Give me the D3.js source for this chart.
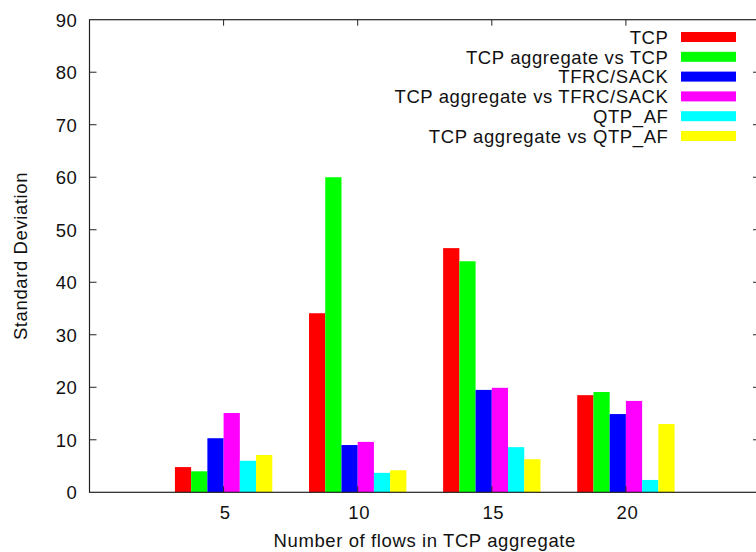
<!DOCTYPE html>
<html>
<head>
<meta charset="utf-8">
<script src="https://cdn.jsdelivr.net/npm/d3@7"></script>
<style>
  html, body { margin: 0; padding: 0; background: #fff; }
  svg { display: block; font-family: "Liberation Sans", Arial, sans-serif; }
  svg text { font-size: 18.5px; letter-spacing: 0.6px; fill: #111; }
</style>
</head>
<body>
<svg id="chart" width="756" height="552"></svg>
<script>
const categories = ["5", "10", "15", "20"];
const seriesNames = ["TCP", "TCP aggregate vs TCP", "TFRC/SACK", "TCP aggregate vs TFRC/SACK", "QTP_AF", "TCP aggregate vs QTP_AF"];
const seriesColors = ["#ff0000", "#00ff00", "#0000ff", "#ff00ff", "#00ffff", "#ffff00"];
const tcp        = [4.8, 34.1, 46.5, 18.5];
const aggVsTcp   = [4.0, 60.0, 44.0, 19.1];
const tfrc       = [10.3, 9.0, 19.5, 14.9];
const aggVsTfrc  = [15.1, 9.6, 19.9, 17.4];
const qtp        = [6.0, 3.7, 8.6, 2.35];
const aggVsQtp   = [7.1, 4.2, 6.3, 13.0];
const seriesValues = [tcp, aggVsTcp, tfrc, aggVsTfrc, qtp, aggVsQtp];
const yTicks = [0, 10, 20, 30, 40, 50, 60, 70, 80, 90];

(function () {
const svg = d3.select("#chart");
const pl = 89.5, pr = 760, pt = 19.7, pb = 492.3;
const x = d3.scaleLinear().domain([-1, 4]).range([pl, pr]);
const y = d3.scaleLinear().domain([0, 90]).range([pb, pt]);
const bw = 0.121; // bar width in cluster units

// bars
seriesValues.forEach((vals, j) => {
  svg.append("g").selectAll("rect").data(vals).join("rect")
    .attr("x", (d, i) => x(i + (j - 3) * bw))
    .attr("width", x(bw) - x(0))
    .attr("y", d => y(d))
    .attr("height", d => y(0) - y(d))
    .attr("fill", seriesColors[j]);
});

// frame
svg.append("rect").attr("x", pl).attr("y", pt)
  .attr("width", pr - pl).attr("height", pb - pt)
  .attr("fill", "none").attr("stroke", "#222").attr("stroke-width", 1.2);

// y axis ticks (left and mirrored right)
const ticksG = svg.append("g").attr("stroke", "#222").attr("stroke-width", 1);
yTicks.slice(1, -1).forEach(t => {
  ticksG.append("line").attr("x1", pl).attr("x2", pl + 7).attr("y1", y(t)).attr("y2", y(t));
  ticksG.append("line").attr("x1", pr).attr("x2", pr - 7).attr("y1", y(t)).attr("y2", y(t));
});
// x ticks (bottom and top)
categories.forEach((c, i) => {
  ticksG.append("line").attr("x1", x(i)).attr("x2", x(i)).attr("y1", pb).attr("y2", pb - 6);
  ticksG.append("line").attr("x1", x(i)).attr("x2", x(i)).attr("y1", pt).attr("y2", pt + 6);
});

// y tick labels
svg.append("g").selectAll("text").data(yTicks).join("text")
  .attr("x", 77.5).attr("y", d => y(d) + 6.8)
  .attr("text-anchor", "end")
  .text(d => d);

// x tick labels
svg.append("g").selectAll("text").data(categories).join("text")
  .attr("x", (d, i) => x(i) + 1.5).attr("y", 518.5)
  .attr("text-anchor", "middle")
  .text(d => d);

// axis titles
svg.append("text").attr("x", (pl + pr) / 2).attr("y", 546.5)
  .attr("text-anchor", "middle")
  .text("Number of flows in TCP aggregate");
svg.append("text").attr("transform", `translate(27,${(pt + pb) / 2}) rotate(-90)`)
  .attr("text-anchor", "middle")
  .text("Standard Deviation");

// legend
const lg = svg.append("g");
seriesNames.forEach((name, j) => {
  const cy = 37 + j * 19.8;
  lg.append("text").attr("x", 668.5).attr("y", cy + 6.8)
    .attr("text-anchor", "end").text(name);
  lg.append("rect").attr("x", 681).attr("y", cy - 5).attr("width", 55).attr("height", 10)
    .attr("fill", seriesColors[j]);
});
})();
</script>
</body>
</html>
